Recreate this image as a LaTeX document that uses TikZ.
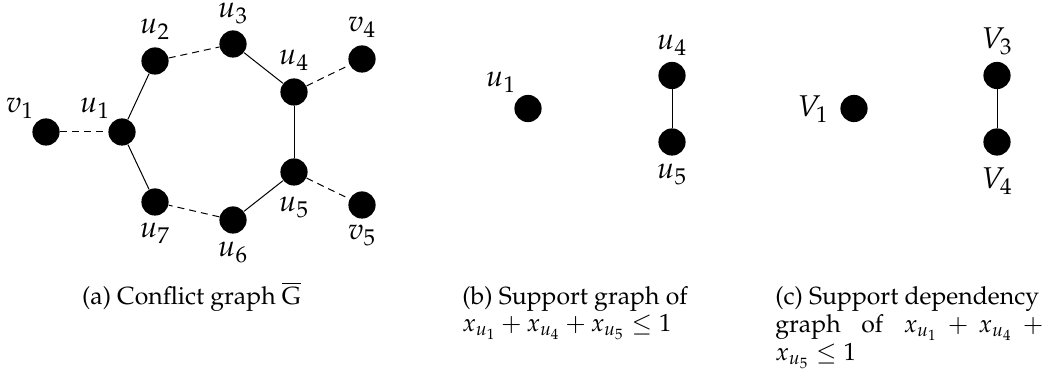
\documentclass[tikz,border=0pt]{standalone}
\usepackage[T1]{fontenc}
\usepackage{mathpazo}
\begin{document}
\begin{tikzpicture}[x=0.5pt,y=-0.5pt,
  every node/.append style={font=\fontsize{12.4}{14}\selectfont},
  vtx/.style={circle,fill=black,inner sep=0pt,minimum size=13.6pt},
  lbl/.style={anchor=base,inner sep=0pt,font=\fontsize{15}{17}\selectfont},
  capmid/.style={anchor=base,inner sep=0pt},
  capline/.style={anchor=base west,inner sep=0pt},
  sedge/.style={line width=0.5pt},
  dedge/.style={line width=0.5pt,dash pattern=on 3.5pt off 2.5pt}]
\useasboundingbox (0,0) rectangle (1048,378);
% (a) conflict graph
\node[vtx] (v1) at (46,132) {};
\node[vtx] (u1) at (122,132) {};
\node[vtx] (u2) at (155,61) {};
\node[vtx] (u3) at (233,44) {};
\node[vtx] (u4) at (294,92) {};
\node[vtx] (v4) at (362,59) {};
\node[vtx] (u5) at (294,172) {};
\node[vtx] (v5) at (362,205) {};
\node[vtx] (u7) at (155,202) {};
\node[vtx] (u6) at (233,220) {};
\draw[dedge] (v1) -- (u1);
\draw[sedge] (u1) -- (u2);
\draw[dedge] (u2) -- (u3);
\draw[sedge] (u3) -- (u4);
\draw[dedge] (u4) -- (v4);
\draw[sedge] (u4) -- (u5);
\draw[dedge] (u5) -- (v5);
\draw[sedge] (u5) -- (u6);
\draw[dedge] (u6) -- (u7);
\draw[sedge] (u7) -- (u1);
\node[lbl] (lv1) at (20,113) {$v_1$};
\node[lbl] (lu1) at (95,113) {$u_1$};
\node[lbl] (lu2) at (155,34) {$u_2$};
\node[lbl] (lu3) at (233,18) {$u_3$};
\node[lbl] (lu4) at (294,65) {$u_4$};
\node[lbl] (lv4) at (362,32) {$v_4$};
\node[lbl] (lu5) at (294,212) {$u_5$};
\node[lbl] (lv5) at (362,240) {$v_5$};
\node[lbl] (lu7) at (155,238) {$u_7$};
\node[lbl] (lu6) at (233,257) {$u_6$};
% (b) support graph
\node[vtx] (bu1) at (528,108.5) {};
\node[vtx] (bu4) at (672,75.5) {};
\node[vtx] (bu5) at (672,142) {};
\draw[sedge] (bu4) -- (bu5);
\node[lbl] (lbu1) at (501,87) {$u_1$};
\node[lbl] (lbu4) at (672,50) {$u_4$};
\node[lbl] (lbu5) at (672,179) {$u_5$};
% (c) support dependency graph
\node[vtx] (cV1) at (854,108.5) {};
\node[vtx] (cV3) at (997,75.5) {};
\node[vtx] (cV4) at (997,142) {};
\draw[sedge] (cV3) -- (cV4);
\node[lbl] (lcV1) at (813,117) {$V_1$};
\node[lbl] (lcV3) at (997,49) {$V_3$};
\node[lbl] (lcV4) at (997,189) {$V_4$};
% captions
\node[capmid] (capa) at (191.5,305) {(a) Conflict graph $\overline{\mathrm{G}}$};
\node[capline] (capb1) at (462,305) {(b) Support graph of};
\node[capline] (capb2) at (462,332) {$x_{u_1}+x_{u_4}+x_{u_5}\le 1$};
\node[capline] (capc1) at (775,305) {(c) Support dependency};
\node[capline] (capc2) at (775,333) {\hbox to 134pt{graph of $x_{u_1} + x_{u_4} +{}\mskip-\medmuskip$}};
\node[capline] (capc3) at (775,361) {$x_{u_5}\le 1$};
\end{tikzpicture}
\end{document}
